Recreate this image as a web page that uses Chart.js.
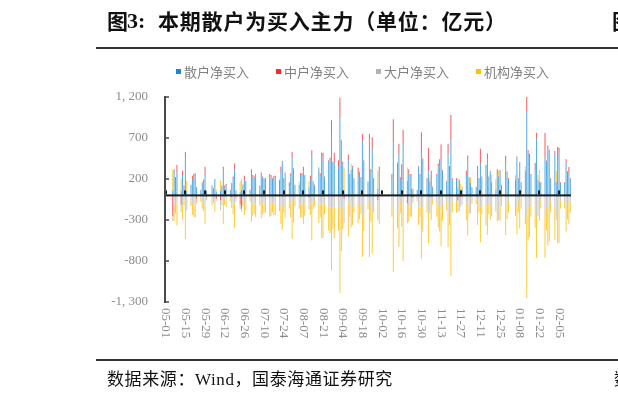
<!DOCTYPE html>
<html>
<head>
<meta charset="utf-8">
<script src="https://cdn.jsdelivr.net/npm/chart.js@4/dist/chart.umd.min.js"></script>
<style>
html,body{margin:0;padding:0;background:#fff;width:618px;height:397px;overflow:hidden;}
#wrap{position:relative;width:618px;height:397px;overflow:hidden;background:#fff;}
canvas{position:absolute;left:0;top:0;}
.t{position:absolute;white-space:nowrap;}
.tt{font-family:"Noto Sans CJK SC";font-weight:bold;font-size:21px;line-height:21px;color:#111;top:9.5px;}
.hl{position:absolute;left:96px;width:522px;height:2px;background:#333;}
.lg{position:absolute;top:64.5px;font-family:"Noto Sans CJK SC";font-size:13px;line-height:13px;color:#808080;white-space:nowrap;}
.sq{position:absolute;top:69px;width:5px;height:5px;}
.ft{font-family:"Noto Sans CJK SC";font-size:17px;line-height:17px;color:#111;top:368.5px;letter-spacing:0.6px;}
</style>
</head>
<body>
<div id="wrap">
  <canvas id="c" width="618" height="397"></canvas>
  <div class="t tt" style="left:107px;">图</div>
  <div class="t tt" style="left:127px;font-family:'Liberation Serif';font-size:22px;">3:</div>
  <div class="t tt" style="left:158px;letter-spacing:0.8px;">本期散户为买入主力（单位：亿元）</div>
  <div class="t tt" style="left:612px;">图</div>
  <div class="hl" style="top:47px;"></div>
  <div class="sq" style="left:176px;background:#1E85D0;"></div><div class="lg" style="left:184px;" id="lg0"></div>
  <div class="sq" style="left:276px;background:#FF2B2B;"></div><div class="lg" style="left:284px;" id="lg1"></div>
  <div class="sq" style="left:376px;background:#B4B4B4;"></div><div class="lg" style="left:384px;" id="lg2"></div>
  <div class="sq" style="left:476px;background:#FFC000;"></div><div class="lg" style="left:484px;" id="lg3"></div>
  <div class="hl" style="top:359px;"></div>
  <div class="t ft" style="left:107px;">数据来源：<span style="font-family:'Liberation Serif';">Wind</span>，国泰海通证券研究</div>
  <div class="t ft" style="left:614px;">数</div>
</div>
<script>
// ---- data (亿元) ----
const seriesNames = ['散户净买入', '中户净买入', '大户净买入', '机构净买入'];
const tradeDates = [
'05-06','05-07','05-08','05-09','05-12','05-13','05-14','05-15','05-16','05-19','05-20','05-21','05-22','05-23','05-26','05-27','05-28','05-29','05-30',
'06-03','06-04','06-05','06-06','06-09','06-10','06-11','06-12','06-13','06-16','06-17','06-18','06-19','06-20','06-23','06-24','06-25','06-26','06-27','06-30',
'07-01','07-02','07-03','07-04','07-07','07-08','07-09','07-10','07-11','07-14','07-15','07-16','07-17','07-18','07-21','07-22','07-23','07-24','07-25','07-28','07-29','07-30','07-31',
'08-01','08-04','08-05','08-06','08-07','08-08','08-11','08-12','08-13','08-14','08-15','08-18','08-19','08-20','08-21','08-22','08-25','08-26','08-27','08-28','08-29',
'09-01','09-02','09-03','09-04','09-05','09-08','09-09','09-10','09-11','09-12','09-15','09-16','09-17','09-18','09-19','09-22','09-23','09-24','09-25','09-26','09-29','09-30',
'10-09','10-10','10-13','10-14','10-15','10-16','10-17','10-20','10-21','10-22','10-23','10-24','10-27','10-28','10-29','10-30','10-31',
'11-03','11-04','11-05','11-06','11-07','11-10','11-11','11-12','11-13','11-14','11-17','11-18','11-19','11-20','11-21','11-24','11-25','11-26','11-27','11-28',
'12-01','12-02','12-03','12-04','12-05','12-08','12-09','12-10','12-11','12-12','12-15','12-16','12-17','12-18','12-19','12-22','12-23','12-24','12-25','12-26','12-29','12-30','12-31',
'01-05','01-06','01-07','01-08','01-09','01-12','01-13','01-14','01-15','01-16','01-19','01-20','01-21','01-22','01-23','01-26','01-27','01-28','01-29','01-30',
'02-02','02-03','02-04','02-05','02-06','02-09','02-10','02-11','02-12','02-13'
];
const retail = [
60,300,180,280,60,240,100,450,40,120,200,230,250,100,60,150,160,240,60,
110,80,190,40,60,110,300,100,120,60,150,200,320,60,40,70,110,180,170,60,
270,220,220,240,100,240,220,210,200,220,220,200,220,210,180,280,400,200,270,100,230,450,320,
120,130,240,250,290,240,100,200,480,160,120,330,250,470,460,220,420,430,760,400,400,
350,940,670,380,60,430,250,300,340,200,250,280,200,650,410,160,670,280,570,200,80,300,
200,650,390,500,200,180,640,180,270,250,80,70,70,350,250,540,440,
180,290,170,100,100,250,350,350,430,300,170,490,310,670,200,200,100,180,50,80,
240,415,210,140,90,95,300,200,395,220,360,435,220,290,150,60,260,220,300,120,395,280,200,
180,450,200,395,150,290,1030,510,468,250,305,690,180,160,150,450,415,570,550,200,
500,150,407,520,150,140,387,285,265,200
];
const mid = [
-250,20,40,90,-120,60,20,80,10,10,40,30,20,-40,10,10,30,110,-20,
10,10,10,-40,-60,10,50,20,20,10,-20,30,70,-30,-110,-160,20,60,10,10,
50,30,10,20,20,40,10,0,10,40,30,10,20,30,10,70,20,10,10,60,40,80,10,
10,0,30,20,60,10,-30,40,70,10,10,10,20,50,60,10,10,30,155,10,120,
80,250,10,30,-40,70,10,10,20,10,90,10,20,100,20,10,80,40,140,10,-60,50,
60,280,10,130,20,200,160,-100,50,10,-20,-30,-10,10,10,230,10,
30,290,-20,200,10,10,40,90,190,10,10,140,50,310,10,10,-60,10,-20,-10,
60,73,10,10,10,10,60,10,175,10,10,75,10,10,10,10,60,10,10,10,90,10,10,
10,25,10,10,10,10,190,40,40,10,90,75,10,10,10,310,10,40,10,10,
40,10,183,60,10,20,53,10,80,10
];
const large = [
-60,-120,-80,-100,-80,-120,-60,-60,-180,-60,-90,-120,-100,-30,-30,-70,-90,-120,-40,
-50,-40,-100,-30,-120,-60,-150,-40,-60,-30,-60,-100,-100,-40,-60,-40,-60,-100,-80,-30,
-120,-100,-90,-100,-60,-120,-100,-90,-80,-100,-100,-90,-100,-100,-70,-130,-150,-100,-100,-60,-100,-60,-130,
-50,-170,-100,-120,-150,-100,-140,-100,-90,-80,-60,-120,-100,-100,-110,-90,-150,-150,-200,-150,-150,
-150,-265,-180,-150,-300,-90,-100,-390,-140,-90,-130,-100,-90,-250,-130,-80,-200,-120,-200,-80,-240,-100,
-90,-200,-150,-180,-80,-120,-250,-240,-120,-120,-240,-60,-40,-140,-100,-200,-150,
-80,-200,-200,-100,-50,-100,-130,-150,-200,-120,-70,-200,-120,-250,-80,-80,-150,-80,-120,-100,
-100,-150,-90,-220,-40,-40,-120,-90,-150,-90,-130,-150,-90,-120,-250,-200,-120,-300,-120,-50,-150,-110,-80,
-250,-150,-80,-150,-60,-350,-250,-150,-150,-100,-120,-250,-250,-310,-60,-250,-150,-200,-180,-80,
-150,-300,-200,-200,-70,-60,-140,-110,-110,-80
];
const inst = [
250,-200,-140,-270,140,-180,-60,-470,130,-70,-150,-140,-170,-30,-40,-90,-100,-230,0,
-70,-50,-100,30,120,-60,-200,-80,-80,-40,-70,-130,-290,10,130,130,-70,-140,-100,-40,
-200,-150,-140,-160,-60,-160,-130,-120,-130,-160,-150,-120,-140,-140,-120,-220,-270,-110,-180,-100,-170,-470,-200,
-80,40,-170,-150,-200,-150,70,-140,-460,-90,-70,-220,-170,-420,-410,-140,-280,-310,-715,-260,-370,
-280,-925,-500,-260,280,-410,-160,80,-220,-120,-210,-190,-130,-500,-300,-90,-550,-200,-510,-130,220,-250,
-170,-730,-250,-450,-140,-260,-550,160,-200,-140,180,20,-20,-220,-160,-570,-300,
-130,-380,50,-200,-60,-160,-260,-290,-420,-190,-110,-430,-240,-730,-130,-130,110,-110,90,30,
-200,-340,-130,70,-60,-65,-240,-120,-420,-140,-240,-330,-140,-180,90,130,-200,70,-190,-80,-335,-180,-130,
60,-325,-130,-255,-100,50,-1000,-400,-358,-160,-275,-515,60,140,-100,-510,-275,-410,-380,-130,
-390,140,-380,-380,-90,-100,-300,-185,-235,-130
];
const xTickLabels = ['05-01','05-15','05-29','06-12','06-26','07-10','07-24','08-07','08-21','09-04','09-18','10-02','10-16','10-30','11-13','11-27','12-11','12-25','01-08','01-22','02-05'];
const yTicks = [-1300, -800, -300, 200, 700, 1200];
const colors = ['#4DA8E0', '#F45A5A', '#C8C8C8', '#FFCA33'];

// calendar-day category axis (2025-05-01 .. 2026-02-13)
const calendar = [];
for (let t = Date.UTC(2025, 4, 1); t <= Date.UTC(2026, 1, 13); t += 86400000) {
  const d = new Date(t);
  calendar.push(String(d.getUTCMonth() + 1).padStart(2, '0') + '-' + String(d.getUTCDate()).padStart(2, '0'));
}
function align(arr) {
  return calendar.map(c => { const k = tradeDates.indexOf(c); return k < 0 ? null : arr[k]; });
}
seriesNames.forEach((n, i) => { document.getElementById('lg' + i).textContent = n; });

function fmt(v) {
  const s = Math.abs(v).toLocaleString('en-US').replace(',', ', ');
  return (v < 0 ? '-' : '') + s;
}

const axesPlugin = {
  id: 'axesPlugin',
  afterDatasetsDraw(chart) {
    const { ctx, chartArea: a, scales: { x, y } } = chart;
    const y0 = y.getPixelForValue(0);
    ctx.save();
    ctx.fillStyle = '#1a1a1a';
    ctx.fillRect(a.left, y0 - 1, a.right - a.left, 2);
    xTickLabels.forEach(lab => {
      const px = x.getPixelForValue(calendar.indexOf(lab));
      ctx.fillRect(Math.round(px) - 1, y0 - 5, 2, 4);
    });
    ctx.fillStyle = '#4a4a4a';
    const yt = y.getPixelForValue(yTicks[yTicks.length - 1]);
    const yb = y.getPixelForValue(yTicks[0]);
    ctx.fillRect(a.left - 1, yt - 1, 2, yb - yt + 2);
    yTicks.forEach(v => {
      const py = y.getPixelForValue(v);
      ctx.fillRect(a.left, py - 0.75, 4, 1.5);
    });
    ctx.fillStyle = '#8c8c8c';
    ctx.font = '13px "Liberation Serif"';
    ctx.textAlign = 'left';
    ctx.textBaseline = 'middle';
    xTickLabels.forEach(lab => {
      const px = x.getPixelForValue(calendar.indexOf(lab));
      ctx.save();
      ctx.translate(px, a.bottom + 6);
      ctx.rotate(Math.PI / 2);
      ctx.fillText(lab, 0, 0);
      ctx.restore();
    });
    ctx.restore();
  }
};

new Chart(document.getElementById('c'), {
  type: 'bar',
  data: {
    labels: calendar,
    datasets: [
      { label: seriesNames[0], data: align(retail), backgroundColor: colors[0] },
      { label: seriesNames[1], data: align(mid), backgroundColor: colors[1] },
      { label: seriesNames[2], data: align(large), backgroundColor: colors[2] },
      { label: seriesNames[3], data: align(inst), backgroundColor: colors[3] }
    ]
  },
  options: {
    responsive: false,
    animation: false,
    devicePixelRatio: 1,
    layout: { padding: { left: 100, right: 47, top: 97, bottom: 95 } },
    datasets: { bar: { categoryPercentage: 1, barPercentage: 0.7, borderWidth: 0 } },
    plugins: { legend: { display: false }, tooltip: { enabled: false } },
    scales: {
      x: { stacked: true, display: false, offset: true },
      y: {
        stacked: true, min: -1300, max: 1200,
        ticks: { stepSize: 500, padding: 17, color: '#8c8c8c', font: { family: 'Liberation Serif', size: 13 }, callback: v => fmt(v) },
        grid: { display: false, drawTicks: false },
        border: { display: false },
        afterFit: s => { s.width = 65; }
      }
    }
  },
  plugins: [axesPlugin]
});
</script>
</body>
</html>
